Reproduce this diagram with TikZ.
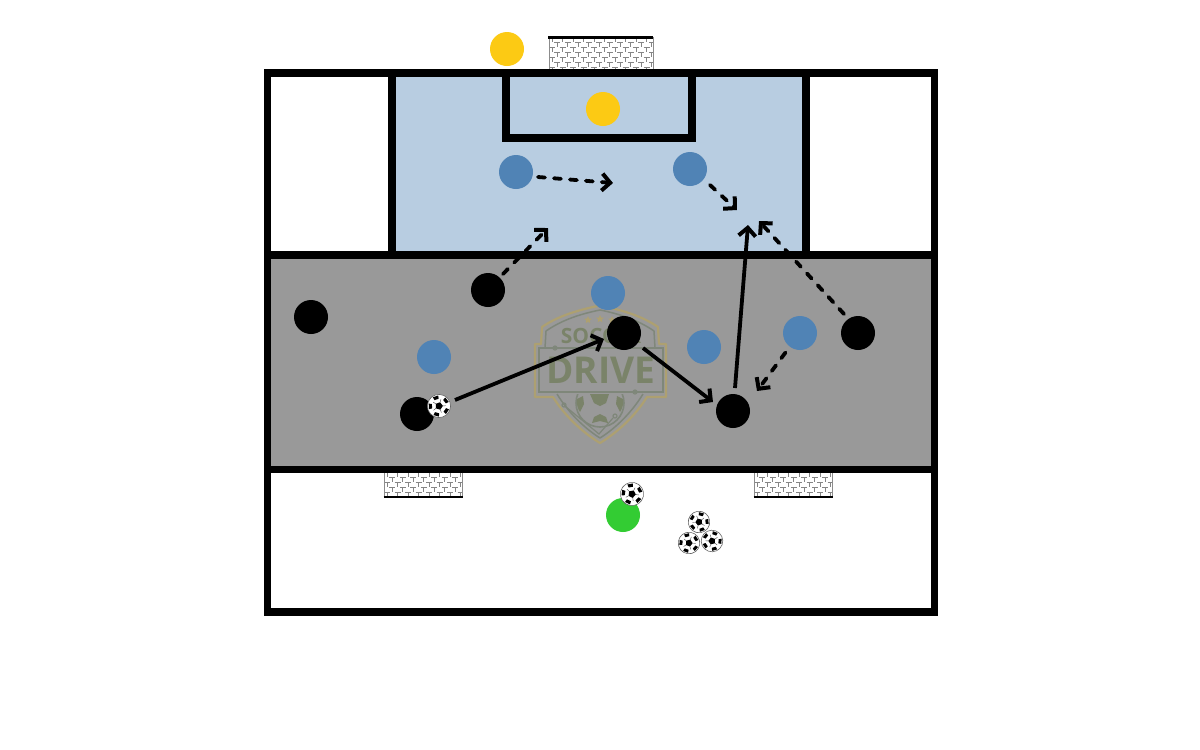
\documentclass[tikz,border=0pt]{standalone}
\usepackage{fontspec}
\setmainfont{Open Sans}
\usetikzlibrary{arrows.meta,shapes.geometric}
\definecolor{pitchblue}{HTML}{B8CDE1}
\definecolor{pitchgrey}{HTML}{999999}
\definecolor{pblue}{HTML}{5083B5}
\definecolor{pyellow}{HTML}{FCCA14}
\definecolor{pgreen}{HTML}{33CC33}
\definecolor{logogold}{HTML}{ADA071}
\definecolor{logogreen}{HTML}{7A8369}
\definecolor{logoline}{HTML}{7F877A}
\makeatletter
\pgfdeclarearrow{
 name=Chev,
 setup code={\pgfarrowssettipend{0pt}\pgfarrowssetlineend{-3pt}\pgfarrowssetbackend{-12pt}\pgfarrowssetvisualbackend{-12pt}},
 drawing code={
  \pgfsetlinewidth{4pt}\pgfsetmiterjoin\pgfsetbuttcap\pgfsetdash{}{0pt}
  \pgfpathmoveto{\pgfqpoint{-11pt}{8.5pt}}
  \pgfpathlineto{\pgfqpoint{-2.8pt}{0pt}}
  \pgfpathlineto{\pgfqpoint{-11pt}{-8.5pt}}
  \pgfusepathqstroke
 }
}
\makeatother
\tikzset{
 x=1pt,y=-1pt,
 player/.style={circle,minimum size=34pt,inner sep=0pt,fill=#1},
 frame/.style={draw=black,line width=7.5pt,miter limit=10},
 run/.style={line width=3.8pt,line cap=round,dash pattern=on 7pt off 9pt,-Chev},
 pass/.style={line width=3.8pt,-Chev},
 ball/.pic={
  \fill[white] (0,0) circle (11.6);
  \draw[black!60,line width=.6pt] (0,0) circle (11.6);
  \fill[black] (90:3.9) -- (162:3.9) -- (234:3.9) -- (306:3.9) -- (18:3.9) -- cycle;
  \foreach \a in {18,90,162,234,306}{
   \draw[black!70,line width=.4pt] (\a:3.8) -- (\a:7);
   \fill[black,rotate=\a] (7,-2.2) -- (10.2,-2.8) -- (10.2,2.8) -- (7,2.2) -- cycle;
  }
 },
}
\newcommand{\goalnet}[4]{% x1,y1,x2,y2
 \begin{scope}
  \clip (#1,#2) rectangle (#3,#4);
  \fill[white] (#1,#2) rectangle (#3,#4);
  \foreach \r in {0,...,7}{
   \pgfmathsetmacro{\yy}{#2+\r*5}
   \pgfmathsetmacro{\off}{mod(\r,2)*5.25}
   \foreach \c in {-1,...,11}{
    \draw[black!48,line width=.75pt] ({#1+\off+\c*10.5},\yy) -- ++(6,0) ++(-3,0) -- ++(0,5);
   }
  }
 \end{scope}
}
\begin{document}
\begin{tikzpicture}
\useasboundingbox (0,0) rectangle (1200,750);
\fill[white] (0,0) rectangle (1200,750);
% zones
\fill[pitchblue] (392,73) rectangle (806,255);
\fill[pitchgrey] (267,255) rectangle (934,469);
% nets
\goalnet{549}{37}{653}{70}
\draw[black!45,line width=.8pt] (549,37) -- (549,70) (653,37) -- (653,70);
\draw[black,line width=3pt] (548,37.5) -- (653,37.5);
\goalnet{384}{472}{462}{497}
\draw[black!45,line width=.8pt] (384,472) -- (384,497) (462,472) -- (462,497);
\draw[black,line width=2.4pt] (383.5,497) -- (462.5,497);
\goalnet{754}{472}{832}{497}
\draw[black!45,line width=.8pt] (754,472) -- (754,497) (832,472) -- (832,497);
\draw[black,line width=2.4pt] (753.5,497) -- (832.5,497);
% logo
\draw[logogold,line width=2.2pt,line join=round] (600,305.5) .. controls (578,310) and (558,316) .. (542,327) -- (541,344) -- (535,344) -- (535,397) -- (553,397) .. controls (565,416) and (582,432) .. (600,443) .. controls (618,432) and (635,416) .. (647,397) -- (666,397) -- (666,344) -- (659,344) -- (658,327) .. controls (642,316) and (622,310) .. (600,305.5) -- cycle;
\draw[logoline,line width=1.5pt,line join=round] (600,310) .. controls (580,314) and (562,320) .. (546,331) -- (545,348) (655,348) -- (654,331) .. controls (638,320) and (620,314) .. (600,310) (557,394) .. controls (568,412) and (584,428) .. (600,438) .. controls (616,428) and (632,412) .. (643,394);
\draw[logoline,line width=1.4pt] (539,348) rectangle (663,392);
\node[font=\bfseries,text=logogreen,scale=2.1,inner sep=0pt] (logotop) at (601,336) {SOCCER};
\node[font=\bfseries,text=logogreen,scale=3.7,inner sep=0pt] (logomain) at (601,370) {DRIVE};
\foreach \x/\y in {588/320,600/319,612/320}{\node[star,star points=5,star point ratio=2.2,fill=logogold,inner sep=0pt,minimum size=8pt] at (\x,\y) {};}
\begin{scope}
 \clip (570,394) rectangle (630,430);
 \draw[logoline,line width=1.6pt] (600,403) circle (24);
 \fill[logogreen] (590,394) -- (609,394) -- (606,403) -- (600,406) -- (594,403) -- cycle;
 \fill[logogreen] (600,414) -- (606,417) -- (608,423) -- (600,421) -- (592,423) -- (594,417) -- cycle;
 \fill[logogreen] (577,399) -- (583,396) -- (584,404) -- (580,412) .. controls (578,409) and (576,404) .. (577,399) -- cycle;
 \fill[logogreen] (623,399) -- (617,396) -- (616,404) -- (620,412) .. controls (622,409) and (624,404) .. (623,399) -- cycle;
\end{scope}
\draw[logoline,line width=1.2pt] (565.5,406.5) -- (599,434) -- (613,418);
\draw[logoline,line width=1.2pt] (555,348) circle (2);
\draw[logoline,line width=1.2pt] (635,392) circle (2);
\draw[logoline,line width=1.2pt] (564,405) circle (2);
\draw[logoline,line width=1.2pt] (615,416) circle (2);
% frame lines
\draw[frame] (392,73) -- (392,255);
\draw[frame] (806,73) -- (806,255);
\draw[frame] (506,73) -- (506,138) -- (692,138) -- (692,73);
\draw[frame] (267.5,255) -- (934,255);
\draw[frame] (267.5,469.5) -- (934,469.5);
\draw[frame] (267.5,73) rectangle (934.5,612);
% players
\node[player=pyellow] (y1) at (507,49) {};
\node[player=pyellow] (y2) at (603,109) {};
\node[player=pblue] (b1) at (516,172) {};
\node[player=pblue] (b2) at (690,169) {};
\node[player=pblue] (b3) at (608,293) {};
\node[player=pblue] (b4) at (434,357) {};
\node[player=pblue] (b5) at (704,347) {};
\node[player=pblue] (b6) at (800,333) {};
\node[player=black] (k1) at (311,317) {};
\node[player=black] (k2) at (488,290) {};
\node[player=black] (k3) at (624,333) {};
\node[player=black] (k4) at (417,414) {};
\node[player=black] (k5) at (733,411) {};
\node[player=black] (k6) at (858,333) {};
\node[player=pgreen] (g1) at (623,515) {};
% balls
\pic[rotate=20] at (439,406) {ball};
\pic[rotate=10] at (632,494) {ball};
\pic[rotate=-15,scale=.93] at (699,522) {ball};
\pic[rotate=15,scale=.93] at (689,543) {ball};
\pic[rotate=-20,scale=.93] at (712,541) {ball};
% free ends
\coordinate (e1) at (613,183);
\coordinate (e2) at (737,210);
\coordinate (e3) at (548,228);
\coordinate (e4) at (759,221);
\coordinate (e5) at (757,391);
\coordinate (e6) at (604,339);
\coordinate (e7) at (713,402);
\coordinate (e8) at (748,225);
\coordinate (s3) at (455,400);
% connectors
\draw[run] (b1) ++(22,5) -- (e1);
\draw[run] (b2) ++(20,16) -- (e2);
\draw[run] (k2) ++(15,-16) -- (e3);
\draw[run] (k6) ++(-14,-19) -- (e4);
\draw[run] (b6) ++(-14.5,19.5) -- (e5);
\draw[pass] (s3) -- (e6);
\draw[pass] (k3) ++(19,15) -- (e7);
\draw[pass] (k5) ++(2,-23) -- (e8);
\end{tikzpicture}
\end{document}
